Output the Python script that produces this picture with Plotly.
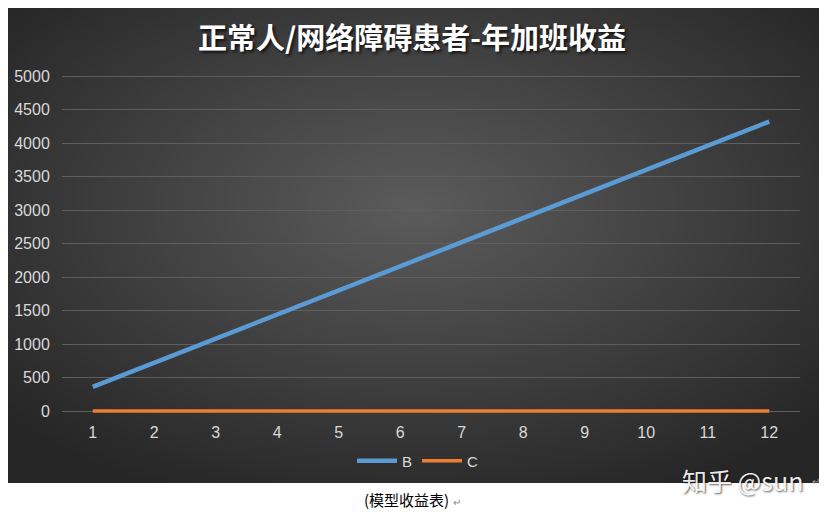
import base64
import struct
import zlib

import numpy as np
import plotly.graph_objects as go

# data
months = list(range(1, 13))
series_b = [360, 720, 1080, 1440, 1800, 2160, 2520, 2880, 3240, 3600, 3960, 4320]
series_c = [0, 0, 0, 0, 0, 0, 0, 0, 0, 0, 0, 0]
y_ticks = list(range(0, 5001, 500))

# the page puts the figure 8px in from the top-left corner
OFF = 8
W, H = 827 - OFF, 512 - OFF


def px(x):
    return (x - OFF) / W


def py(y):
    return 1 - (y - OFF) / H


# radial gradient background as a small png
def gradient_png(w=240, h=140):
    yy, xx = np.mgrid[0:h, 0:w]
    dx = (xx - w * 0.5) / (w * 0.5)
    dy = (yy - h * 0.42) / (h * 0.5)
    r = np.clip(np.sqrt(dx ** 2 + dy ** 2) / 1.35, 0, 1)
    v = (92 - 54 * r).astype(np.uint8)
    raw = b"".join(b"\x00" + bytes(np.repeat(row, 3)) for row in v)

    def chunk(tag, data):
        c = struct.pack(">I", len(data)) + tag + data
        return c + struct.pack(">I", zlib.crc32(tag + data) & 0xffffffff)

    png = b"\x89PNG\r\n\x1a\n"
    png += chunk(b"IHDR", struct.pack(">IIBBBBB", w, h, 8, 2, 0, 0, 0))
    png += chunk(b"IDAT", zlib.compress(raw, 9))
    png += chunk(b"IEND", b"")
    return "data:image/png;base64," + base64.b64encode(png).decode()


fig = go.Figure()
fig.add_trace(go.Scatter(x=months, y=series_b, mode="lines", name="B",
                         line=dict(color="#5b9bd5", width=4.5)))
fig.add_trace(go.Scatter(x=months, y=series_c, mode="lines", name="C",
                         line=dict(color="#ed7d31", width=3.5)))

# y axis geometry: 0 -> 411px, 5000 -> 76px
ppu = (411 - 76) / 5000
pad = 150
y_lo, y_hi = -pad, 5000 + pad
fig.update_layout(
    width=W, height=H,
    margin=dict(l=0, r=0, t=0, b=0),
    paper_bgcolor="white",
    plot_bgcolor="rgba(0,0,0,0)",
    font=dict(family="Liberation Sans, Arial", color="#d9d9d9", size=16),
    xaxis=dict(domain=[px(62), px(800)], range=[0.5, 12.5], tickvals=months,
               showgrid=False, zeroline=False, showline=False, ticks="",
               ticklabelstandoff=0,
               tickfont=dict(size=16, color="#d9d9d9")),
    yaxis=dict(domain=[py(411 + pad * ppu), py(76 - pad * ppu)], range=[y_lo, y_hi],
               tickvals=y_ticks, showgrid=True, gridcolor="#5e5e5e", gridwidth=1,
               zeroline=False, showline=False, ticks="outside", ticklen=8,
               tickcolor="rgba(0,0,0,0)",
               tickfont=dict(size=16, color="#d9d9d9")),
    showlegend=True,
    legend=dict(orientation="h", x=px(418), xanchor="center", y=py(461), yanchor="middle",
                bgcolor="rgba(0,0,0,0)", font=dict(size=15, color="#d9d9d9"),
                itemwidth=40, traceorder="normal"),
    images=[dict(source=gradient_png(), xref="paper", yref="paper",
                 x=0, y=1, sizex=px(819), sizey=(483 - OFF) / H,
                 sizing="stretch", layer="below")],
)

# title with a soft shadow
fig.add_annotation(text="<b>正常人/网络障碍患者-年加班收益</b>", xref="paper", yref="paper",
                   x=px(412), y=py(36), yanchor="middle", showarrow=False,
                   font=dict(family="Noto Sans CJK SC", size=29, color="white",
                             shadow="2px 2px 3px rgba(0,0,0,0.7)"))

# watermark
fig.add_annotation(text="知乎 @sun", xref="paper", yref="paper",
                   x=px(805), y=py(480), xanchor="right", yanchor="middle",
                   showarrow=False,
                   font=dict(family="Noto Sans CJK SC", size=25,
                             color="rgba(255,255,255,0.92)",
                             shadow="1px 1px 2px rgba(0,0,0,0.7)"))
fig.add_annotation(text="↵", xref="paper", yref="paper", x=px(822), y=py(481),
                   yanchor="middle", showarrow=False, font=dict(size=10, color="#999999"))

# caption below chart
fig.add_annotation(text="(模型收益表) <span style='font-size:10px;color:#888'>↵</span>",
                   xref="paper", yref="paper", x=px(412), y=py(499), yanchor="middle",
                   showarrow=False, borderpad=0,
                   font=dict(family="Noto Sans CJK SC", size=15, color="black"))

fig.write_html("out.html")
